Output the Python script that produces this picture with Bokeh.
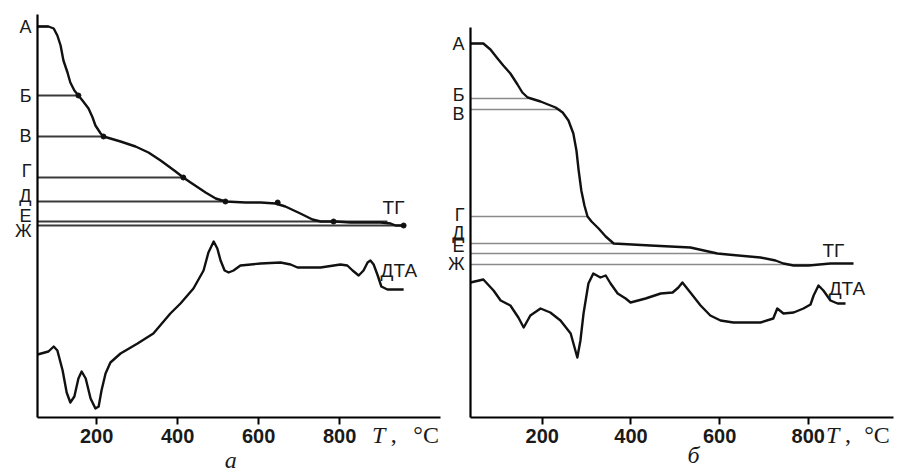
from bokeh.plotting import figure
from bokeh.models import Range1d, FixedTicker, Label
from bokeh.layouts import row
from bokeh.embed import file_html
from bokeh.resources import INLINE

# ---------------- data: panel "а" ----------------
a_tg_T = [54, 81, 94, 103, 111, 118, 128, 135, 145, 155, 165, 180, 190, 197, 210, 217,
          234, 259, 296, 328, 358, 395, 414, 432, 469, 494, 518, 568, 605, 642, 666,
          703, 733, 753, 790, 827, 901, 926, 938, 958]
a_tg_v = [391, 391, 389, 382, 372, 357, 345, 335, 327, 322, 317, 309, 300, 292, 284, 281,
          279, 276, 271, 265, 257, 246, 240, 235, 225, 219, 216, 215, 215, 214, 211,
          204, 198, 196, 196, 195, 195, 194, 192, 192]
a_dot_T = [155, 217, 414, 518, 647, 785, 958]
a_dot_v = [322, 281, 240, 216, 215, 196, 192]

a_dta_T = [54, 81, 94, 103, 116, 126, 135, 145, 155, 163, 173, 185, 197, 205, 212, 222,
           234, 259, 301, 340, 382, 407, 439, 464, 476, 489, 498, 506, 516, 526, 538,
           555, 605, 654, 679, 696, 753, 802, 819, 832, 847, 859, 869, 876, 884, 894,
           903, 918, 958]
a_dta_v = [63, 66, 71, 67, 47, 25, 15, 21, 39, 46, 39, 19, 9, 11, 27, 44,
           55, 64, 74, 84, 104, 114, 129, 147, 165, 176, 169, 157, 147, 145, 147,
           152, 154, 155, 153, 150, 150, 153, 152, 147, 142, 147, 155, 157, 153, 142,
           131, 128, 128]

a_level_names = ["А", "Б", "В", "Г", "Д", "Е", "Ж"]
a_level_v = [391, 322, 281, 240, 216, 196, 192]
a_level_end_T = [81, 155, 217, 414, 518, 918, 958]
a_label_v = [391, 322, 282, 247, 222, 202, 187]

# ---------------- data: panel "б" ----------------
b_tg_T = [38, 67, 83, 99, 112, 128, 144, 155, 167, 196, 230, 246, 259, 270, 277, 282,
          288, 295, 302, 311, 327, 343, 361, 444, 534, 595, 618, 692, 726, 744, 767,
          800, 850, 902]
b_tg_v = [374, 374, 368, 359, 352, 344, 333, 325, 320, 316, 310, 305, 297, 284, 267, 247,
          227, 212, 201, 196, 189, 181, 174, 172, 170, 164, 163, 160, 157, 154, 152,
          152, 154, 154]

b_dta_T = [38, 67, 90, 106, 128, 146, 158, 173, 196, 218, 241, 264, 279, 286, 293, 304,
           315, 331, 343, 354, 370, 388, 399, 433, 467, 494, 507, 516, 534, 557, 579,
           602, 631, 692, 721, 730, 744, 767, 789, 805, 812, 823, 834, 850, 866, 884]
b_dta_v = [135, 138, 127, 117, 112, 100, 90, 102, 109, 105, 97, 84, 60, 77, 104, 134,
           144, 140, 142, 134, 124, 119, 115, 119, 124, 125, 130, 135, 125, 112, 102,
           97, 95, 95, 99, 109, 104, 105, 109, 113, 122, 132, 127, 117, 114, 114]

b_level_names = ["А", "Б", "В", "Г", "Д", "Е", "Ж"]
b_level_v = [374, 319, 308, 201, 174, 164, 153]
b_level_end_T = [67, 167, 241, 302, 361, 595, 805]
b_label_v = [374, 323, 304, 203, 185, 172, 154]

x_ticks = [200, 400, 600, 800]
x_tick_labels = ["200", "400", "600", "800"]


def make_panel(width, xr, yr, x_bounds, y_bounds, tg_T, tg_v, dta_T, dta_v,
               names, level_v, level_end, label_v, level_color, level_width):
    p = figure(width=width, height=472, x_range=Range1d(*xr), y_range=Range1d(*yr),
               output_backend="svg", toolbar_location=None, title=None,
               min_border_left=0, min_border_right=0,
               min_border_top=0, min_border_bottom=0)
    p.outline_line_color = None
    p.xgrid.visible = False
    p.ygrid.visible = False
    p.background_fill_color = "white"
    p.border_fill_color = "white"

    xa = p.xaxis[0]
    xa.fixed_location = y_bounds[0]
    xa.bounds = x_bounds
    xa.ticker = FixedTicker(ticks=x_ticks)
    xa.major_label_overrides = {t: s for t, s in zip(x_ticks, x_tick_labels)}
    xa.major_tick_out = 7
    xa.major_tick_in = 0
    xa.minor_tick_out = 0
    xa.minor_tick_in = 0
    xa.axis_line_width = 2.2
    xa.major_tick_line_width = 2
    xa.major_label_text_font = "Liberation Sans"
    xa.major_label_text_font_style = "bold"
    xa.major_label_text_font_size = "20px"
    xa.major_label_text_color = "#1a1a1a"
    xa.major_label_standoff = 4

    ya = p.yaxis[0]
    ya.fixed_location = x_bounds[0]
    ya.bounds = y_bounds
    ya.ticker = FixedTicker(ticks=label_v)
    ya.major_label_overrides = {v: n for v, n in zip(label_v, names)}
    ya.major_tick_out = 0
    ya.major_tick_in = 0
    ya.minor_tick_out = 0
    ya.minor_tick_in = 0
    ya.axis_line_width = 2.2
    ya.major_label_text_font = "Liberation Sans"
    ya.major_label_text_font_size = "18px"
    ya.major_label_text_color = "#1a1a1a"
    ya.major_label_standoff = 6

    starts = [x_bounds[0]] * len(level_v)
    p.segment(x0=starts, y0=level_v, x1=level_end, y1=level_v,
              line_color=level_color, line_width=level_width)
    p.line(tg_T, tg_v, line_color="#111111", line_width=2.4, line_join="round")
    p.line(dta_T, dta_v, line_color="#111111", line_width=2.4, line_join="round")
    return p


pa = make_panel(448, (-37.4, 1068.8), (-55, 417), (54, 1049), (0, 403),
                a_tg_T, a_tg_v, a_dta_T, a_dta_v,
                a_level_names, a_level_v, a_level_end_T, a_label_v, "#3a3a3a", 2)
pa.scatter(a_dot_T, a_dot_v, size=5, color="#111111")

pb = make_panel(458, (-11.6, 1021.5), (-55, 417), (38, 992), (0, 390),
                b_tg_T, b_tg_v, b_dta_T, b_dta_v,
                b_level_names, b_level_v, b_level_end_T, b_label_v, "#8a8a8a", 1.6)


def add_text(p, x, y, text, font="Liberation Sans", size="19px", style="normal",
             align="left", baseline="middle"):
    p.add_layout(Label(x=x, y=y, text=text, text_font=font, text_font_size=size,
                       text_font_style=style, text_align=align, text_baseline=baseline,
                       text_color="#1a1a1a"))


# curve names
add_text(pa, 906, 210, "ТГ")
add_text(pa, 901, 147, "ДТА")
add_text(pb, 832, 167, "ТГ")
add_text(pb, 846, 129, "ДТА")

# axis titles
add_text(pa, 880, -17, "T", font="Liberation Serif", size="24px", style="italic")
add_text(pa, 926, -17, ",", font="Liberation Serif", size="24px")
add_text(pa, 982, -17, "°C", font="Liberation Serif", size="24px")
add_text(pb, 840, -17, "T", font="Liberation Serif", size="24px", style="italic")
add_text(pb, 883, -17, ",", font="Liberation Serif", size="24px")
add_text(pb, 926, -17, "°C", font="Liberation Serif", size="24px")

# panel captions
add_text(pa, 531, -42, "а", font="Liberation Serif", size="24px", style="italic",
         align="center")
add_text(pb, 541, -37, "б", font="Liberation Serif", size="24px", style="italic",
         align="center")

layout = row(pa, pb)
open("out.html", "w").write(file_html(layout, INLINE))
